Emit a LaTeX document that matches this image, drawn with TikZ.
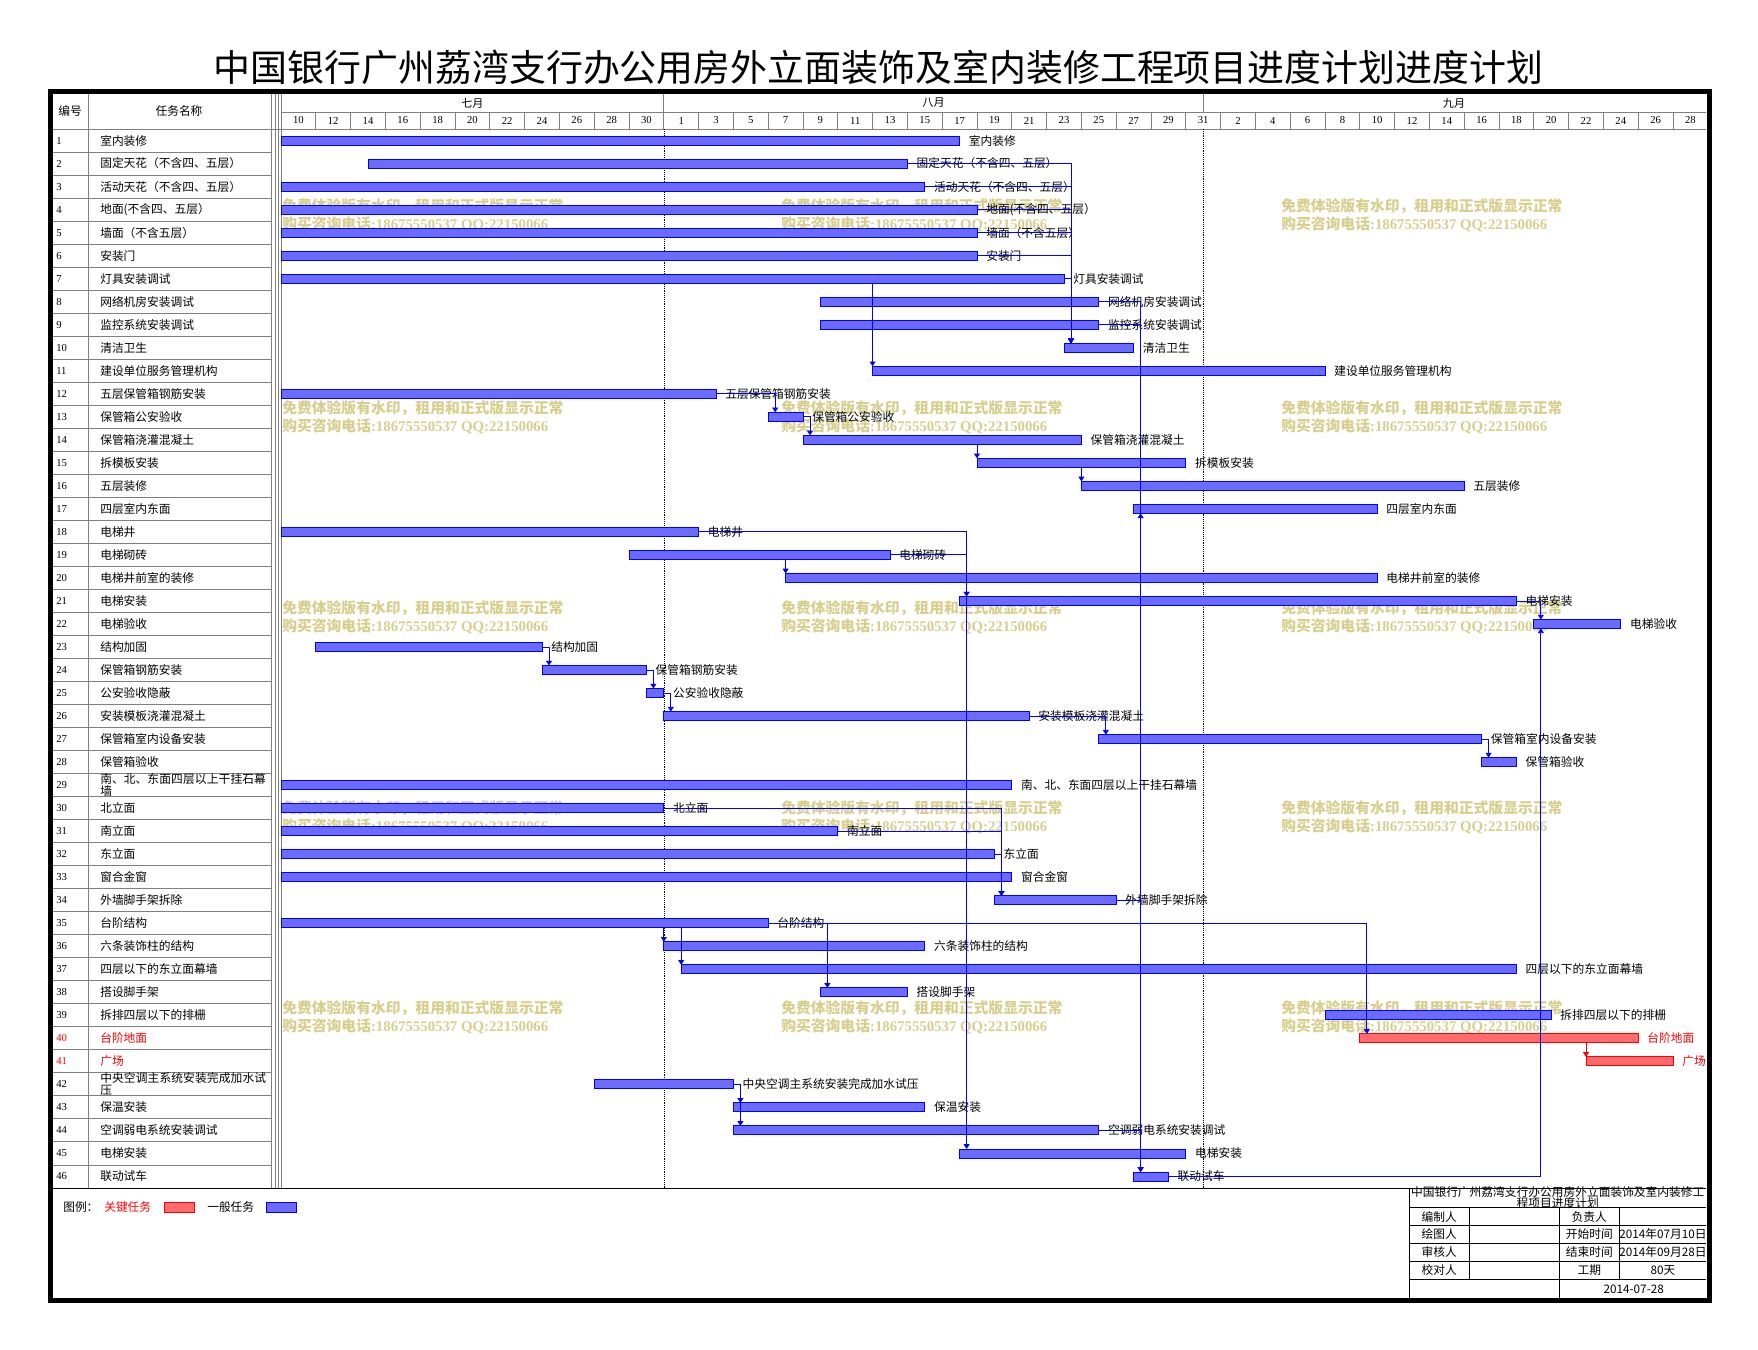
\documentclass[tikz,border=0pt]{standalone}
\usepackage{fontspec}
\setmainfont{Liberation Serif}
\newfontfamily\cjk{Noto Sans CJK SC}
\XeTeXlinebreaklocale "zh"
\XeTeXlinebreakskip = 0pt plus 1pt
\usetikzlibrary{arrows.meta}
\definecolor{wmark}{RGB}{216,206,140}
\definecolor{gridgray}{RGB}{128,128,128}
\newcommand{\wmone}{免费体验版有水印，租用和正式版显示正常}
\newcommand{\wmtwo}{购买咨询电话{\rmfamily\bfseries :18675550537 QQ:22150066}}

\begin{document}
\begin{tikzpicture}[x=0.75pt,y=-0.75pt]
                        \tikzstyle{gbar}=[draw=blue,fill=blue!58,line width=0.6pt,minimum height=6.75pt,inner sep=0pt,outer sep=0pt,anchor=west]
                        \tikzstyle{kbar}=[gbar,draw=red,fill=red!58]
                        \tikzstyle{lbl}=[anchor=west,inner sep=0pt,font=\cjk\fontsize{8.8}{9}\selectfont]
                        \tikzstyle{nametext}=[lbl,text width=126pt,align=left,font=\cjk\fontsize{8.8}{9}\selectfont]
                        \tikzstyle{num}=[anchor=west,inner sep=0pt,font=\fontsize{8}{9}\selectfont]
                        \tikzstyle{daynum}=[inner sep=0pt,font=\fontsize{8}{9}\selectfont]
                        \tikzstyle{cell}=[inner sep=0pt,font=\cjk\fontsize{8.8}{9}\selectfont]
                        \tikzstyle{wm}=[anchor=west,align=left,inner sep=0pt,text=wmark,font=\cjk\bfseries\fontsize{11.1}{13.8}\selectfont]
                        \tikzstyle{link}=[draw=blue,line width=0.6pt,-{Triangle[length=3.5pt,width=4.5pt]}]
                        \tikzstyle{grid}=[draw=gridgray,line width=0.6pt]
                        \useasboundingbox (0,0) rectangle (1758,1349);
                        \node[font=\cjk\fontsize{27.7}{30}\selectfont] (title) at (878.5,67) {中国银行广州荔湾支行办公用房外立面装饰及室内装修工程项目进度计划进度计划};
                        \foreach \wy in {206,408,608,808,1008}
                            \foreach \wx in {282,781,1281}
                                \node[wm] (wm\wx\wy) at (\wx,\wy+9) {\wmone\\\wmtwo};
                        \draw[grid] (88,94) -- (88,1188);
                        \foreach \gx in {271,275,278,281}
                            \draw[grid] (\gx,94) -- (\gx,1188);
                        \draw[grid] (281,112) -- (1706,112);
                        \draw[grid] (53,129) -- (1706,129);
                        \foreach \i in {1,...,40}
                            \draw[grid] (281+34.8*\i,112) -- (281+34.8*\i,129);
                        \draw[grid] (663.8,94) -- (663.8,112);
                        \draw[grid] (1203.2,94) -- (1203.2,112);
                        \foreach \r in {1,...,45}
                            \draw[grid] (53,129+23.02*\r) -- (271,129+23.02*\r);
                        \draw[densely dotted] (663.8,129) -- (663.8,1188);
                        \draw[densely dotted] (1203.2,129) -- (1203.2,1188);
                        \node[cell] (hno) at (70,111) {编号};
                        \node[cell] (hname) at (179,111) {任务名称};
                        \node[cell,font=\cjk\fontsize{8.3}{9}\selectfont] (m7) at (472.4,103) {七月};
                        \node[cell,font=\cjk\fontsize{8.3}{9}\selectfont] (m8) at (933.5,103) {八月};
                        \node[cell,font=\cjk\fontsize{8.3}{9}\selectfont] (m9) at (1454,103) {九月};
                        \foreach \d [count=\i from 0] in {10,12,14,16,18,20,22,24,26,28,30,1,3,5,7,9,11,13,15,17,19,21,23,25,27,29,31,2,4,6,8,10,12,14,16,18,20,22,24,26,28}
                            \node[daynum] (d\i) at (298.4+34.8*\i,120.5) {\d};
                        \foreach \r/\s/\e/\st/\c/\t in {
                            1/0/38/gbar/black/室内装修,
                            2/5/35/gbar/black/固定天花（不含四、五层）,
                            3/0/36/gbar/black/活动天花（不含四、五层）,
                            4/0/39/gbar/black/地面(不含四、五层）,
                            5/0/39/gbar/black/墙面（不含五层）,
                            6/0/39/gbar/black/安装门,
                            7/0/44/gbar/black/灯具安装调试,
                            8/31/46/gbar/black/网络机房安装调试,
                            9/31/46/gbar/black/监控系统安装调试,
                            10/45/48/gbar/black/清洁卫生,
                            11/34/59/gbar/black/建设单位服务管理机构,
                            12/0/24/gbar/black/五层保管箱钢筋安装,
                            13/28/29/gbar/black/保管箱公安验收,
                            14/30/45/gbar/black/保管箱浇灌混凝土,
                            15/40/51/gbar/black/拆模板安装,
                            16/46/67/gbar/black/五层装修,
                            17/49/62/gbar/black/四层室内东面,
                            18/0/23/gbar/black/电梯井,
                            19/20/34/gbar/black/电梯砌砖,
                            20/29/62/gbar/black/电梯井前室的装修,
                            21/39/70/gbar/black/电梯安装,
                            22/72/76/gbar/black/电梯验收,
                            23/2/14/gbar/black/结构加固,
                            24/15/20/gbar/black/保管箱钢筋安装,
                            25/21/21/gbar/black/公安验收隐蔽,
                            26/22/42/gbar/black/安装模板浇灌混凝土,
                            27/47/68/gbar/black/保管箱室内设备安装,
                            28/69/70/gbar/black/保管箱验收,
                            29/0/41/gbar/black/南、北、东面四层以上干挂石幕墙,
                            30/0/21/gbar/black/北立面,
                            31/0/31/gbar/black/南立面,
                            32/0/40/gbar/black/东立面,
                            33/0/41/gbar/black/窗合金窗,
                            34/41/47/gbar/black/外墙脚手架拆除,
                            35/0/27/gbar/black/台阶结构,
                            36/22/36/gbar/black/六条装饰柱的结构,
                            37/23/70/gbar/black/四层以下的东立面幕墙,
                            38/31/35/gbar/black/搭设脚手架,
                            39/60/72/gbar/black/拆排四层以下的排栅,
                            40/62/77/kbar/red/台阶地面,
                            41/75/79/kbar/red/广场,
                            42/18/25/gbar/black/中央空调主系统安装完成加水试压,
                            43/26/36/gbar/black/保温安装,
                            44/26/46/gbar/black/空调弱电系统安装调试,
                            45/39/51/gbar/black/电梯安装,
                            46/49/50/gbar/black/联动试车}
                        {
                            \pgfmathsetmacro\by{129+23.02*(\r-0.5)}
                            \pgfmathsetmacro\bx{281+17.4*\s}
                            \pgfmathsetmacro\bw{13.05*(\e-\s+1)}
                            \node[num,text=\c] (no\r) at (56,\by) {\r};
                            \node[nametext,text=\c] (n\r) at (100,\by) {\t};
                            \node[\st,minimum width=\bw pt] (b\r) at (\bx,\by) {};
                            \node[lbl,text=\c] (l\r) at ([xshift=6.75pt]b\r.east) {\t};
                        }
                        \foreach \p/\q in {2/10,3/10,4/10,5/10,6/10,7/10,8/46,9/46,44/46,12/13,13/14,18/21,18/45,19/21,21/22,23/24,24/25,25/26,26/27,27/28,30/34,31/34,32/34,35/38,35/40,42/43,42/44}
                            \draw[link] (b\p.east) -| ([xshift=5.25pt]b\q.north west);
                        \foreach \p/\q in {34/17,46/22}
                            \draw[link] (b\p.east) -| ([xshift=5.25pt]b\q.south west);
                        \foreach \p/\q in {7/11,14/15,15/16,19/20,35/36,35/37}
                            \draw[link] (b\p.south -| b\q.north west) -- (b\q.north west);
                        \draw[link,draw=red] (b40.south -| b41.north west) -- (b41.north west);
                        \draw (53,1188) -- (1706,1188);
                        \node[lbl] (lg) at (63,1207) {图例：};
                        \node[lbl,text=red] (lgk) at (104,1207) {关键任务};
                        \node[kbar,minimum width=22.5pt,minimum height=7.5pt] (lgkb) at (164.5,1207) {};
                        \node[lbl] (lgg) at (207,1207) {一般任务};
                        \node[gbar,minimum width=22.5pt,minimum height=7.5pt] (lggb) at (266.5,1207) {};
                        \draw (1409.3,1188) -- (1409.3,1300);
                        \foreach \ty in {1207.7,1225.7,1243.3,1261.3,1279}
                            \draw (1409.3,\ty) -- (1706,\ty);
                        \draw (1469.3,1207.7) -- (1469.3,1279);
                        \draw (1559.3,1207.7) -- (1559.3,1300);
                        \draw (1619.3,1207.7) -- (1619.3,1279);
                        \node[cell,align=center,font=\cjk\fontsize{8.8}{8.3}\selectfont] (tbt) at (1557.7,1197.5) {中国银行广州荔湾支行办公用房外立面装饰及室内装修工\\程项目进度计划};
                        \node[cell] (tb1) at (1439.3,1216.7) {编制人};
                        \node[cell] (tb2) at (1589.3,1216.7) {负责人};
                        \node[cell] (tb3) at (1439.3,1234.5) {绘图人};
                        \node[cell] (tb4) at (1589.3,1234.5) {开始时间};
                        \node[cell] (tb5) at (1663,1234.5) {2014年07月10日};
                        \node[cell] (tb6) at (1439.3,1252.3) {审核人};
                        \node[cell] (tb7) at (1589.3,1252.3) {结束时间};
                        \node[cell] (tb8) at (1663,1252.3) {2014年09月28日};
                        \node[cell] (tb9) at (1439.3,1270.2) {校对人};
                        \node[cell] (tb10) at (1589.3,1270.2) {工期};
                        \node[cell] (tb11) at (1663,1270.2) {80天};
                        \node[cell] (tb12) at (1633.7,1289) {2014-07-28};
                        \draw[line width=3.75pt] (50.5,91.5) rectangle (1709,1300.5);
                    \end{tikzpicture}
\end{document}
